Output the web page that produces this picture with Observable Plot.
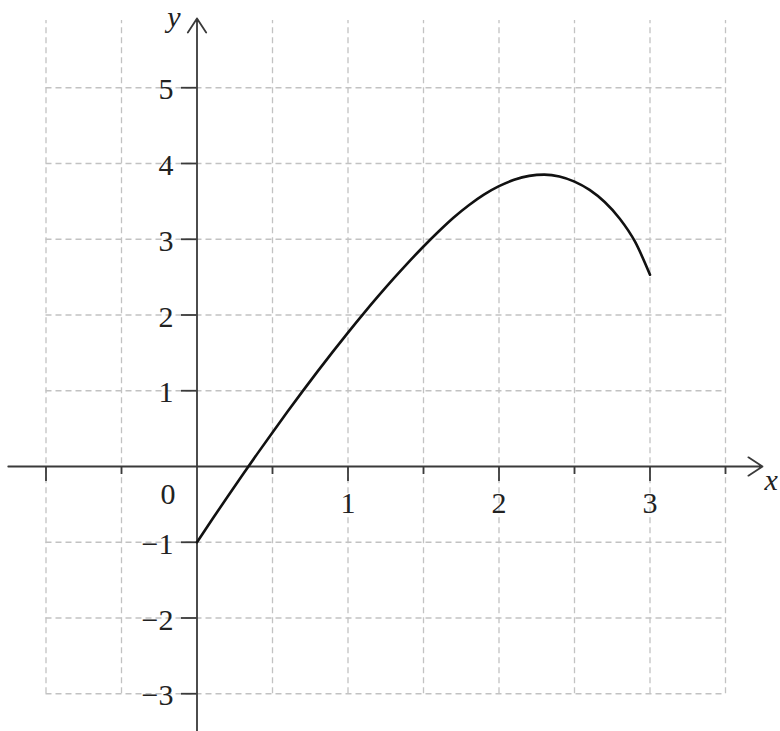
<!DOCTYPE html>
<html>
<head>
<meta charset="utf-8">
<script src="https://cdn.jsdelivr.net/npm/d3@7"></script>
<script src="https://cdn.jsdelivr.net/npm/@observablehq/plot@0.6"></script>
<style>
  html, body { margin: 0; padding: 0; background: #ffffff; }
  #chart svg { display: block; }
  #chart svg text { font-family: "Liberation Serif", "Times New Roman", Times, Tinos, "Nimbus Roman", serif; }
</style>
</head>
<body>
<div id="chart"></div>
<script>
// Curve values
const curveX = [0, 0.1, 0.2, 0.3, 0.4, 0.5, 0.6, 0.7, 0.8, 0.9, 1.0, 1.1, 1.2, 1.3, 1.4, 1.5,
                1.6, 1.7, 1.8, 1.9, 2.0, 2.1, 2.2, 2.3, 2.4, 2.5, 2.6, 2.7, 2.8, 2.9, 3.0];
const curveY = [-1.000, -0.700, -0.405, -0.115, 0.170, 0.450, 0.725, 0.995, 1.259, 1.517, 1.768, 2.012, 2.248, 2.476, 2.695, 2.904,
                3.102, 3.287, 3.449, 3.589, 3.701, 3.785, 3.837, 3.853, 3.829, 3.761, 3.651, 3.491, 3.271, 2.971, 2.531];

// Grid and tick values
const xGridValues = [-1, -0.5, 0.5, 1, 1.5, 2, 2.5, 3, 3.5];
const yGridValues = [-3, -2, -1, 1, 2, 3, 4, 5];
const xMajorTicks = [-1, 1, 2, 3];
const xMinorTicks = [-0.5, 0.5, 1.5, 2.5, 3.5];
const yTicks = [-3, -2, -1, 1, 2, 3, 4, 5];
const xTickLabels = [1, 2, 3];
const yTickLabels = [5, 4, 3, 2, 1, -1, -2, -3];
const originLabel = ["0"];
const axisNames = ["x", "y"];

const curve = curveX.map((x, i) => ({x, y: curveY[i]}));

// Scale geometry: pixel-per-unit
const W = 780, H = 731;
const x0px = 196.5, xUnit = 151;
const y0px = 466, yUnit = 75.75;
const xDomain = [-x0px / xUnit, (W - x0px) / xUnit];
const yDomain = [-(H - y0px) / yUnit, y0px / yUnit];

const gridTop = (y0px - 20) / yUnit;
const fmt = d => d < 0 ? "\u2212" + Math.abs(d) : String(d);

const grid = "#c2c2c2";
const axisColor = "#3a3a3a";
const serif = "Liberation Serif, Times New Roman, Times, serif";

const chart = Plot.plot({
  width: W,
  height: H,
  margin: 0,
  x: {domain: xDomain, range: [0, W], axis: null},
  y: {domain: yDomain, range: [H, 0], axis: null},
  style: {background: "#ffffff", overflow: "visible"},
  marks: [
    // dashed grid
    Plot.ruleX(xGridValues, {x: d => d, y1: -3, y2: gridTop, stroke: grid, strokeWidth: 1.3, strokeDasharray: "6,4"}),
    Plot.ruleY(yGridValues, {y: d => d, x1: -1, x2: 3.5, stroke: grid, strokeWidth: 1.3, strokeDasharray: "6,4"}),
    // axes with arrowheads
    Plot.arrow([0], {x1: -1.25, y1: 0, x2: (762 - x0px) / xUnit, y2: 0, stroke: axisColor, strokeWidth: 1.8, headLength: 14, headAngle: 66}),
    Plot.arrow([0], {x1: 0, y1: yDomain[0], x2: 0, y2: (y0px - 18) / yUnit, stroke: axisColor, strokeWidth: 1.8, headLength: 14, headAngle: 66}),
    // tick marks
    Plot.ruleX(xMajorTicks, {x: d => d, y1: 0, y2: -15 / yUnit, stroke: axisColor, strokeWidth: 1.8}),
    Plot.ruleX(xMinorTicks, {x: d => d, y1: 0, y2: -8 / yUnit, stroke: axisColor, strokeWidth: 1.8}),
    Plot.ruleY(yTicks, {y: d => d, x1: -15.5 / xUnit, x2: 0, stroke: axisColor, strokeWidth: 1.8}),
    // tick labels
    Plot.text(xTickLabels, {x: d => d, y: 0, text: d => fmt(d), dy: 37, fontSize: 30, fontFamily: serif, fill: "#222"}),
    Plot.text(yTickLabels, {x: 0, y: d => d, text: d => fmt(d), textAnchor: "end", dx: -23.5, dy: 2, fontSize: 30, fontFamily: serif, fill: "#222"}),
    Plot.text(originLabel, {x: 0, y: 0, text: d => d, dx: -29, dy: 28, fontSize: 30, fontFamily: serif, fill: "#222"}),
    // axis names
    Plot.text([axisNames[0]], {x: (764 - x0px) / xUnit, y: 0, text: d => d, textAnchor: "start", dy: 14, fontSize: 30, fontFamily: serif, fontStyle: "italic", fill: "#222"}),
    Plot.text([axisNames[1]], {x: 0, y: (y0px - 17) / yUnit, text: d => d, textAnchor: "middle", dx: -23, fontSize: 30, fontFamily: serif, fontStyle: "italic", fill: "#222"}),
    // the curve
    Plot.line(curve, {x: "x", y: "y", curve: "monotone-x", stroke: "#111111", strokeWidth: 2.6})
  ]
});

document.getElementById("chart").appendChild(chart);
</script>
</body>
</html>
